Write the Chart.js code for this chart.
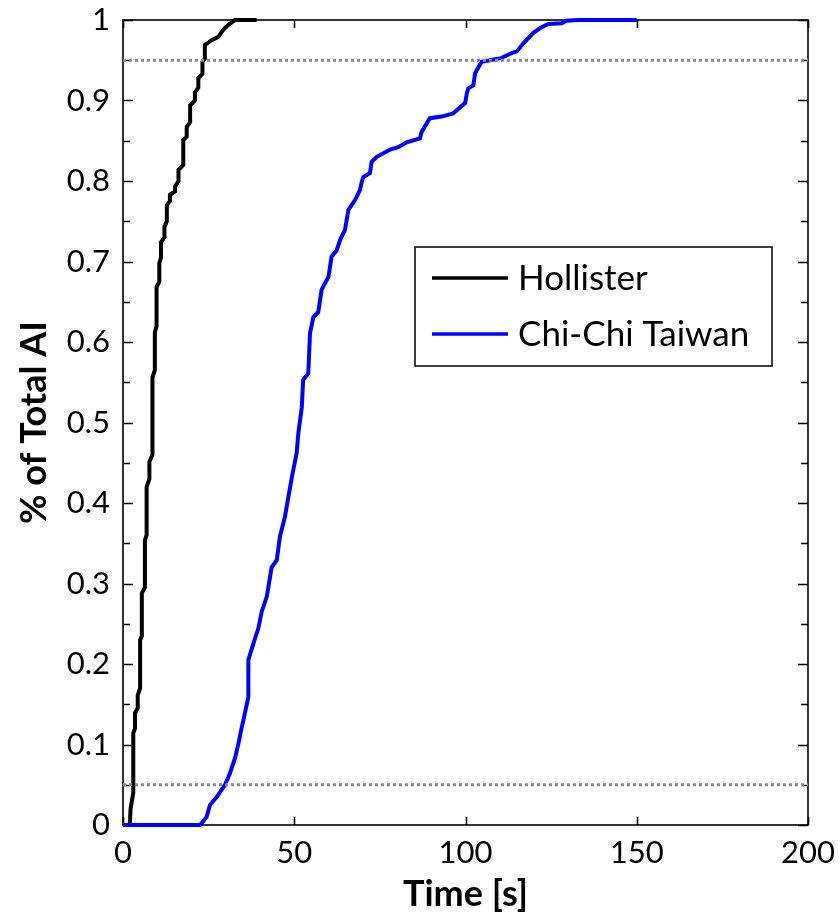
<!DOCTYPE html>
<html>
<head>
<meta charset="utf-8">
<script src="https://cdn.jsdelivr.net/npm/chart.js@4.4.1/dist/chart.umd.min.js"></script>
<style>
  html, body { margin: 0; padding: 0; background: #fff; }
  canvas { display: block; }
</style>
</head>
<body>
<canvas id="chart" width="840" height="920"></canvas>
<script>
// Cumulative Arias intensity (fraction of total) versus time
const hollisterTime = [0, 2.0, 2.2, 2.6, 3.0, 3.0, 3.5, 3.5, 4.3, 4.3, 5.0, 5.0, 5.5, 5.5, 6.4, 6.4, 6.9, 6.9, 7.7, 7.7,
  8.6, 8.6, 9.3, 9.3, 9.8, 9.8, 10.6, 10.6, 11.1, 11.1, 12.1, 12.1, 12.8, 12.8, 13.7, 13.7, 15.2, 15.2, 16.2, 16.2,
  17.6, 17.6, 18.6, 18.6, 19.6, 19.6, 21.0, 21.0, 22.0, 22.0, 23.2, 23.2, 23.9, 23.9, 25.9, 27.8, 29.3, 30.8, 32.7, 39.0];
const hollisterAI = [0, 0, 0.02, 0.03, 0.04, 0.114, 0.12, 0.139, 0.145, 0.161, 0.17, 0.23, 0.235, 0.288, 0.295, 0.354, 0.36, 0.42, 0.43, 0.451,
  0.46, 0.556, 0.565, 0.612, 0.62, 0.668, 0.675, 0.698, 0.705, 0.724, 0.73, 0.743, 0.75, 0.77, 0.775, 0.783, 0.787, 0.793, 0.80, 0.814,
  0.82, 0.851, 0.855, 0.867, 0.873, 0.894, 0.90, 0.91, 0.916, 0.928, 0.933, 0.948, 0.952, 0.969, 0.975, 0.979, 0.988, 0.994, 1.0, 1.0];

const chichiTime = [0, 22.5, 24.4, 25.4, 27.4, 29.8, 31.2, 32.7, 33.7, 34.7, 35.6, 36.6, 36.6, 38.1, 39.5, 40.5, 42.0, 43.4, 44.9, 45.8,
  47.3, 48.3, 49.3, 50.7, 51.2, 52.2, 52.6, 54.1, 54.6, 55.6, 57.0, 58.0, 60.0, 60.9, 62.4, 63.4, 64.8, 65.8, 67.7, 69.2,
  69.7, 70.2, 72.1, 72.6, 74.1, 78.0, 80.4, 82.8, 86.7, 87.2, 89.6, 93.0, 96.4, 99.9, 100.4, 100.8, 102.3, 102.8, 104.7, 107.2,
  110.6, 113.5, 115.0, 116.9, 119.8, 121.8, 124.2, 128.1, 129.5, 132.9, 150.0];
const chichiAI = [0, 0, 0.01, 0.025, 0.035, 0.05, 0.064, 0.083, 0.101, 0.122, 0.139, 0.159, 0.205, 0.226, 0.244, 0.265, 0.284, 0.32, 0.329, 0.358,
  0.383, 0.408, 0.432, 0.462, 0.487, 0.519, 0.553, 0.561, 0.611, 0.631, 0.637, 0.665, 0.681, 0.706, 0.714, 0.727, 0.739, 0.764, 0.776, 0.789,
  0.799, 0.805, 0.81, 0.824, 0.83, 0.839, 0.842, 0.848, 0.853, 0.861, 0.878, 0.88, 0.884, 0.897, 0.909, 0.915, 0.919, 0.934, 0.948, 0.95,
  0.953, 0.959, 0.961, 0.971, 0.984, 0.99, 0.995, 0.996, 0.999, 1.0, 1.0];

// 5% and 95% bounds of the significant duration
const thresholdLevels = [0.05, 0.95];
const timeRange = [0, 200];
const seriesNames = ['Hollister', 'Chi-Chi Taiwan'];
const seriesColors = ['#000000', '#0000ff'];

const toPoints = (xs, ys) => xs.map((t, i) => ({ x: t, y: ys[i] }));

const datasets = [];
thresholdLevels.forEach(level => {
  datasets.push({
    label: 'bound ' + level,
    data: timeRange.map(t => ({ x: t, y: level })),
    borderColor: '#888888',
    borderWidth: 3,
    borderDash: [3, 3],
    pointRadius: 0,
    order: 0,
    isBound: true
  });
});
datasets.push({
  label: seriesNames[1],
  data: toPoints(chichiTime, chichiAI),
  borderColor: seriesColors[1],
  borderWidth: 4,
  pointRadius: 0,
  order: 1,
  clip: 4
});
datasets.push({
  label: seriesNames[0],
  data: toPoints(hollisterTime, hollisterAI),
  borderColor: seriesColors[0],
  borderWidth: 4,
  pointRadius: 0,
  order: 2,
  clip: 4
});

// Boxed axes with inward tick marks on all four sides
const boxAxes = {
  id: 'boxAxes',
  beforeDatasetsDraw(chart) {
    const { ctx, chartArea: a, scales: { x, y } } = chart;
    ctx.save();
    ctx.strokeStyle = '#000';
    ctx.lineWidth = 1.6;
    ctx.strokeRect(a.left, a.top, a.right - a.left, a.bottom - a.top);
    ctx.beginPath();
    y.ticks.forEach(t => {
      const py = Math.round(y.getPixelForValue(t.value)) + 0.5;
      const major = Math.round(t.value * 100) % 10 === 0;
      const len = major ? 10 : 7;
      ctx.moveTo(a.left, py); ctx.lineTo(a.left + len, py);
      ctx.moveTo(a.right, py); ctx.lineTo(a.right - len, py);
    });
    x.ticks.forEach(t => {
      const px = Math.round(x.getPixelForValue(t.value)) + 0.5;
      ctx.moveTo(px, a.bottom); ctx.lineTo(px, a.bottom - 8);
      ctx.moveTo(px, a.top); ctx.lineTo(px, a.top + 8);
    });
    ctx.stroke();
    ctx.restore();
  },
  afterDatasetsDraw(chart) {
    const { ctx, chartArea: a } = chart;
    const items = chart.data.datasets.filter(d => !d.isBound)
      .sort((p, q) => seriesNames.indexOf(p.label) - seriesNames.indexOf(q.label));
    const boxLeft = a.left + 292, boxTop = a.top + 227, boxW = 357, boxH = 119;
    ctx.save();
    ctx.fillStyle = '#fff';
    ctx.fillRect(boxLeft, boxTop, boxW, boxH);
    ctx.strokeStyle = '#000';
    ctx.lineWidth = 1.5;
    ctx.strokeRect(boxLeft, boxTop, boxW, boxH);
    ctx.font = '35px Lato';
    ctx.textBaseline = 'middle';
    ctx.textAlign = 'left';
    items.forEach((d, i) => {
      const ly = boxTop + 31 + i * 56;
      ctx.strokeStyle = d.borderColor;
      ctx.lineWidth = 3.5;
      ctx.beginPath();
      ctx.moveTo(boxLeft + 17, ly);
      ctx.lineTo(boxLeft + 93, ly);
      ctx.stroke();
      ctx.fillStyle = '#000';
      ctx.fillText(d.label, boxLeft + 103, ly + 1);
    });
    ctx.restore();
  }
};

// Let the outer layout padding alone decide the plot frame position
const noEdgePadding = s => {
  s.paddingTop = 0; s.paddingBottom = 0; s.paddingLeft = 0; s.paddingRight = 0;
};

Chart.defaults.font.family = 'Lato';
Chart.defaults.color = '#000';

new Chart(document.getElementById('chart'), {
  type: 'line',
  data: { datasets },
  options: {
    responsive: false,
    animation: false,
    events: [],
    layout: { padding: { top: 20, right: 32, left: 0, bottom: 0 } },
    plugins: { legend: { display: false }, tooltip: { enabled: false } },
    scales: {
      x: {
        type: 'linear',
        min: timeRange[0],
        max: timeRange[1],
        grid: { display: false, drawTicks: false },
        border: { display: false },
        ticks: { stepSize: 50, padding: 9, font: { size: 31 }, maxRotation: 0 },
        title: { display: true, text: 'Time [s]', font: { size: 36, weight: 'bold' }, padding: { top: 0, bottom: 4 } },
        afterFit: s => { s.height = 95; noEdgePadding(s); }
      },
      y: {
        type: 'linear',
        min: 0,
        max: 1,
        grid: { display: false, drawTicks: false },
        border: { display: false },
        ticks: {
          stepSize: 0.05,
          autoSkip: false,
          padding: 13,
          font: { size: 31 },
          callback: v => (Math.round(v * 100) % 10 === 0 ? String(Math.round(v * 10) / 10) : '')
        },
        title: { display: true, text: '% of Total AI', font: { size: 36, weight: 'bold' }, padding: { top: 13, bottom: 0 } },
        afterFit: s => { s.width = 123; noEdgePadding(s); }
      }
    }
  },
  plugins: [boxAxes]
});
</script>
</body>
</html>
